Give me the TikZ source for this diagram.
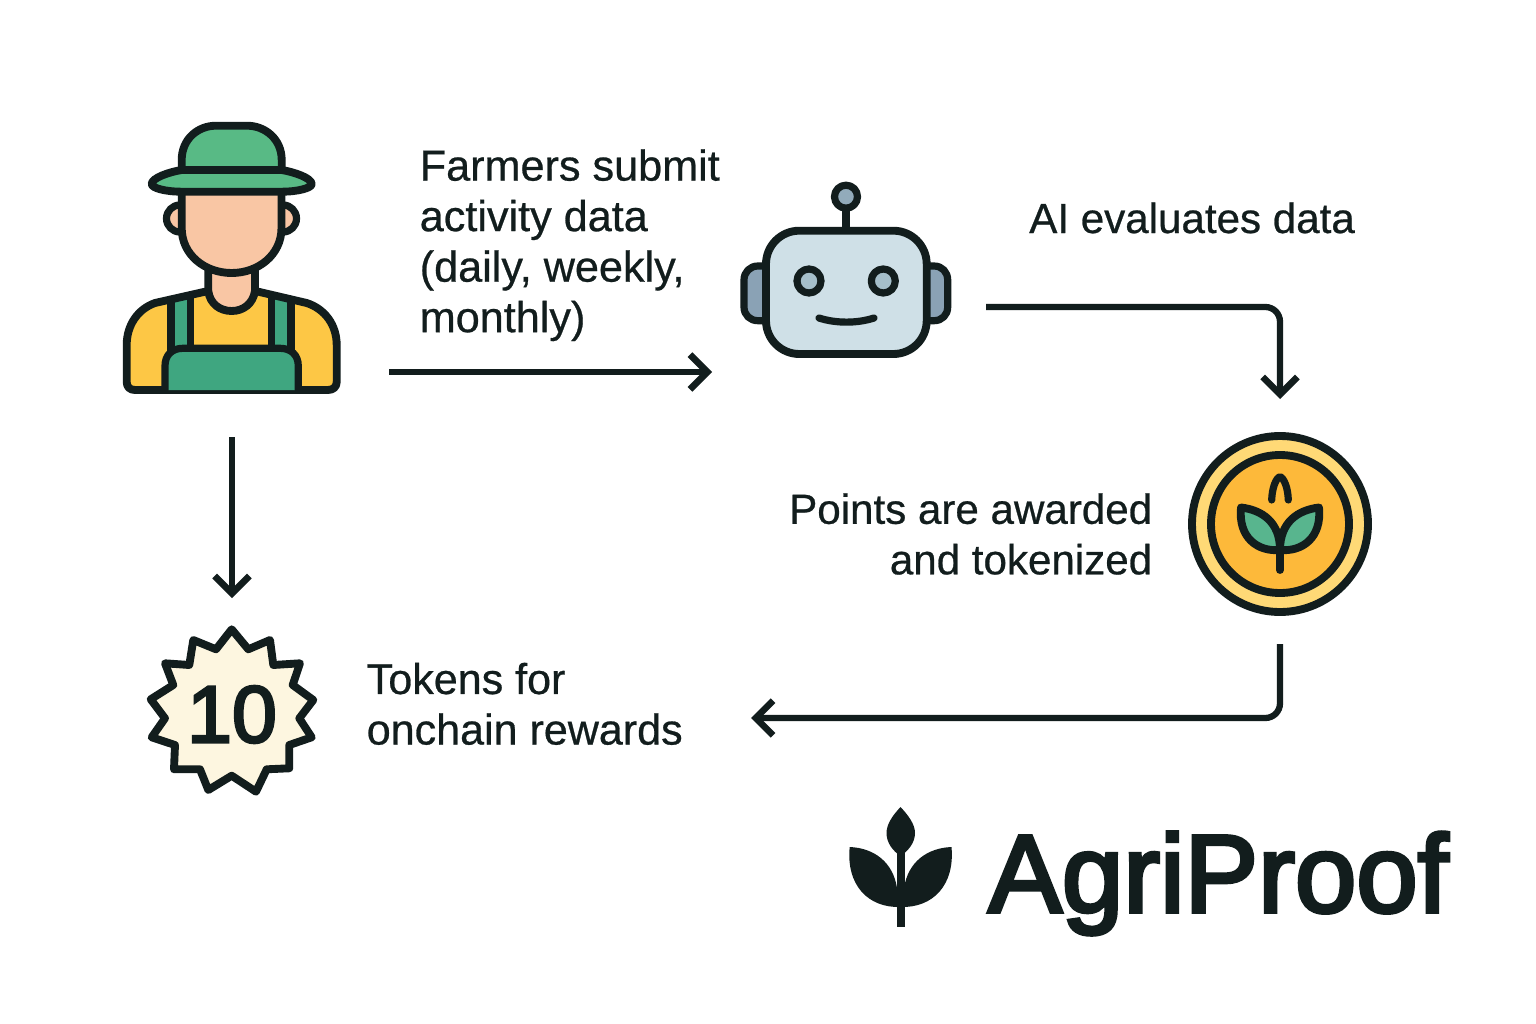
\documentclass[tikz,border=0pt]{standalone}
\usepackage{fontspec}
\setmainfont{Liberation Sans}
\font\logofnt="Liberation Sans:embolden=3.4" at 82.8pt
\font\tenfnt="Liberation Sans:embolden=3.2" at 60.5pt
\font\capA="Liberation Sans:embolden=0.6" at 32.4pt
\font\capB="Liberation Sans:embolden=0.6" at 31.6pt
\font\capC="Liberation Sans:embolden=0.6" at 32.3pt
\usetikzlibrary{arrows.meta}
\definecolor{ink}{HTML}{121D1D}
\definecolor{hatgreen}{HTML}{58BA85}
\definecolor{biblgreen}{HTML}{3FA680}
\definecolor{skin}{HTML}{F9C6A4}
\definecolor{shirt}{HTML}{FDC745}
\definecolor{robotface}{HTML}{CFE0E7}
\definecolor{robotear}{HTML}{8AA2B5}
\definecolor{roboteye}{HTML}{A5BFCA}
\definecolor{coinring}{HTML}{FFD976}
\definecolor{coinface}{HTML}{FDB93A}
\definecolor{leafgreen}{HTML}{58B58E}
\definecolor{badgefill}{HTML}{FDF6E0}
\tikzset{
  x=0.75pt,y=-0.75pt,
  icon/.style={draw=ink,line width=5.9pt,line join=round,line cap=round},
  thin icon/.style={draw=ink,line width=5.4pt,line join=round,line cap=round},
  flow/.style={draw=ink,line width=4.7pt,rounded corners=11pt,-{Straight Barb[length=13pt,width=26pt,line width=5pt]}},
  caption/.style={text=ink,inner sep=0pt},
  anchorbox/.style={inner sep=0pt,minimum width=#1,draw=none},
}
\begin{document}
\begin{tikzpicture}
\useasboundingbox (0,0) rectangle (1536,1024);
\fill[white] (0,0) rectangle (1536,1024);

% ---------- farmer ----------
\def\bodypath{(205,291.7) -- (155,303) .. controls (138,309) and (126.7,325) .. (126.7,345) -- (126.7,382) .. controls (126.7,387) and (130,390) .. (135,390) -- (328,390) .. controls (333,390) and (336.7,387) .. (336.7,382) -- (336.7,345) .. controls (336.7,325) and (325,309) .. (306.7,303) -- (258.3,291.7) -- cycle}
\fill[shirt] \bodypath;
\begin{scope}
  \clip \bodypath;
  \fill[biblgreen] (171,280) rectangle (190.3,350);
  \fill[biblgreen] (271.7,280) rectangle (291,350);
  \draw[thin icon] (171,280) -- (171,352);
  \draw[thin icon] (190.3,280) -- (190.3,352);
  \draw[thin icon] (271.7,280) -- (271.7,352);
  \draw[thin icon] (291,280) -- (291,352);
\end{scope}
\draw[icon] \bodypath;
\draw[thin icon,fill=biblgreen] (165,390) -- (165,366) .. controls (165,355) and (172,348.3) .. (183,348.3) -- (280,348.3) .. controls (291,348.3) and (298.3,355) .. (298.3,366) -- (298.3,390);
\draw[icon,fill=skin] (208.3,265) -- (208.3,291) .. controls (210,304) and (220,311) .. (231.7,311) .. controls (243,311) and (253,304) .. (255,291) -- (255,265) -- cycle;
\draw[thin icon,fill=skin] (180,218.5) circle[radius=13.5];
\draw[thin icon,fill=skin] (283,218.5) circle[radius=13.5];
\draw[icon,fill=skin] (181.7,190) -- (181.7,228) .. controls (181.7,255) and (205,273) .. (231.7,273) .. controls (258,273) and (281.5,255) .. (281.5,228) -- (281.5,190) -- cycle;
\draw[icon,fill=hatgreen] (181.7,172) -- (181.7,160) .. controls (181.7,139) and (198,125.7) .. (216,125.7) -- (247,125.7) .. controls (265,125.7) and (281.7,139) .. (281.7,160) -- (281.7,172) -- cycle;
\draw[icon,fill=hatgreen] (181.7,170) -- (281.7,170) .. controls (294,172) and (311.7,178) .. (311.7,184) .. controls (311.7,188) and (298,191.7) .. (281.7,191.7) -- (181.7,191.7) .. controls (165,191.7) and (151.7,188) .. (151.7,184) .. controls (151.7,178) and (169,172) .. (181.7,170) -- cycle;
\node[anchorbox=163.5pt,minimum height=200pt] (farmer) at (232,258) {};

% ---------- robot ----------
\draw[icon] (846,231) -- (846,208);
\draw[thin icon,fill=robotear] (766,266) -- (758,266) .. controls (750,266) and (744,272) .. (744,280) -- (744,307) .. controls (744,315) and (750,320.7) .. (758,320.7) -- (766,320.7) -- cycle;
\draw[thin icon,fill=robotear] (926,266) -- (934,266) .. controls (942,266) and (947.7,272) .. (947.7,280) -- (947.7,307) .. controls (947.7,315) and (942,320.7) .. (934,320.7) -- (926,320.7) -- cycle;
\draw[icon,fill=robotface,rounded corners=25pt] (766,230.7) rectangle (926.7,354);
\draw[thin icon,fill=robotear!70!roboteye] (846,196.7) circle[radius=11.5];
\draw[thin icon,fill=roboteye] (809,281) circle[radius=12];
\draw[thin icon,fill=roboteye] (883.3,281) circle[radius=12];
\draw[thin icon] (819,318) .. controls (836,323.5) and (857,323.5) .. (874,318);
\node[anchorbox=157.5pt,minimum height=130pt] (robot) at (846,270) {};

% ---------- coin ----------
\draw[icon,fill=coinring] (1280,524) circle[radius=88];
\draw[icon,fill=coinface] (1280,524) circle[radius=69];
\draw[thin icon] (1271.7,500) .. controls (1272,488) and (1276,478) .. (1280,476.7) .. controls (1284,478) and (1288,488) .. (1288.3,500);
\draw[icon,fill=leafgreen] (1241,507.5) .. controls (1262,510) and (1280,522) .. (1280,550) .. controls (1258,552) and (1238,538) .. (1241,507.5) -- cycle;
\draw[icon,fill=leafgreen] (1319,507.5) .. controls (1298,510) and (1280,522) .. (1280,550) .. controls (1302,552) and (1322,538) .. (1319,507.5) -- cycle;
\draw[icon] (1280,548) -- (1280,570);
\node[anchorbox=138pt,minimum height=138pt] (coin) at (1280,524) {};

% ---------- badge ----------
\draw[icon,fill=badgefill]
  (231.7,629.3) -- (248.3,649.3) -- (270,640) -- (273.3,665) -- (300,663.3) -- (292.7,685) -- (313.3,700) -- (299.3,718.3) -- (311.7,737.3) -- (289.3,745) -- (289.3,768.3) -- (266.7,769.3) -- (256,791.7) -- (231.7,775.7) -- (208.3,790) -- (200,769.3) -- (174,769.3) -- (175,745) -- (151.7,737.3) -- (165,718.3) -- (150.7,699.3) -- (173.3,685) -- (165,663.3) -- (189.3,665) -- (193.3,640) -- (216,649.3) -- cycle;
\node[font=\tenfnt,text=ink,inner sep=0pt] (ten) at (232,714.5) {10};

% ---------- logo ----------
\fill[ink] (900.5,807) .. controls (908,815) and (915,824) .. (915,833) .. controls (915,843) and (908,851) .. (900.5,856) .. controls (893,851) and (886.5,843) .. (886.5,833) .. controls (886.5,824) and (893,815) .. (900.5,807) -- cycle;
\fill[ink] (897,850) rectangle (905,926.5);
\fill[ink] (849.7,847) .. controls (874,848) and (893,862) .. (897,888) -- (900.5,907) .. controls (868,908) and (846,885) .. (849.7,847) -- cycle;
\fill[ink] (951.5,847) .. controls (927,848) and (908,862) .. (904,888) -- (900.5,907) .. controls (933,908) and (955,885) .. (951.5,847) -- cycle;
\node[font=\logofnt,text=ink,inner sep=0pt,anchor=base west] (logo) at (988,912) {AgriProof};

% ---------- captions ----------
\node[caption,font={\capA\baselineskip=37.9pt},align=left,anchor=north west] (submit) at (419.5,149) {Farmers submit\\activity data\\(daily, weekly,\\monthly)};
\node[caption,font=\capB,anchor=base west] (evaluates) at (1029,233) {AI evaluates data};
\node[caption,font={\capB\baselineskip=37.9pt},align=right,anchor=north east] (awarded) at (1152.5,493) {Points are awarded\\and tokenized};
\node[caption,font={\capC\baselineskip=37.9pt},align=left,anchor=north west] (rewards) at (366.5,662.5) {Tokens for\\onchain rewards};

% ---------- connectors ----------
\coordinate (a1s) at (389,372); \coordinate (a1e) at (712,372);
\coordinate (a2s) at (986,307); \coordinate (a2c) at (1280,307); \coordinate (a2e) at (1280,399);
\coordinate (a3s) at (1280,644); \coordinate (a3c) at (1280,718); \coordinate (a3e) at (751,718);
\coordinate (a4s) at (232,437); \coordinate (a4e) at (232,598);
\draw[flow] (a1s) -- (a1e);
\draw[flow] (a2s) -- (a2c) -- (a2e);
\draw[flow] (a3s) -- (a3c) -- (a3e);
\draw[flow] (a4s) -- (a4e);
\end{tikzpicture}
\end{document}
